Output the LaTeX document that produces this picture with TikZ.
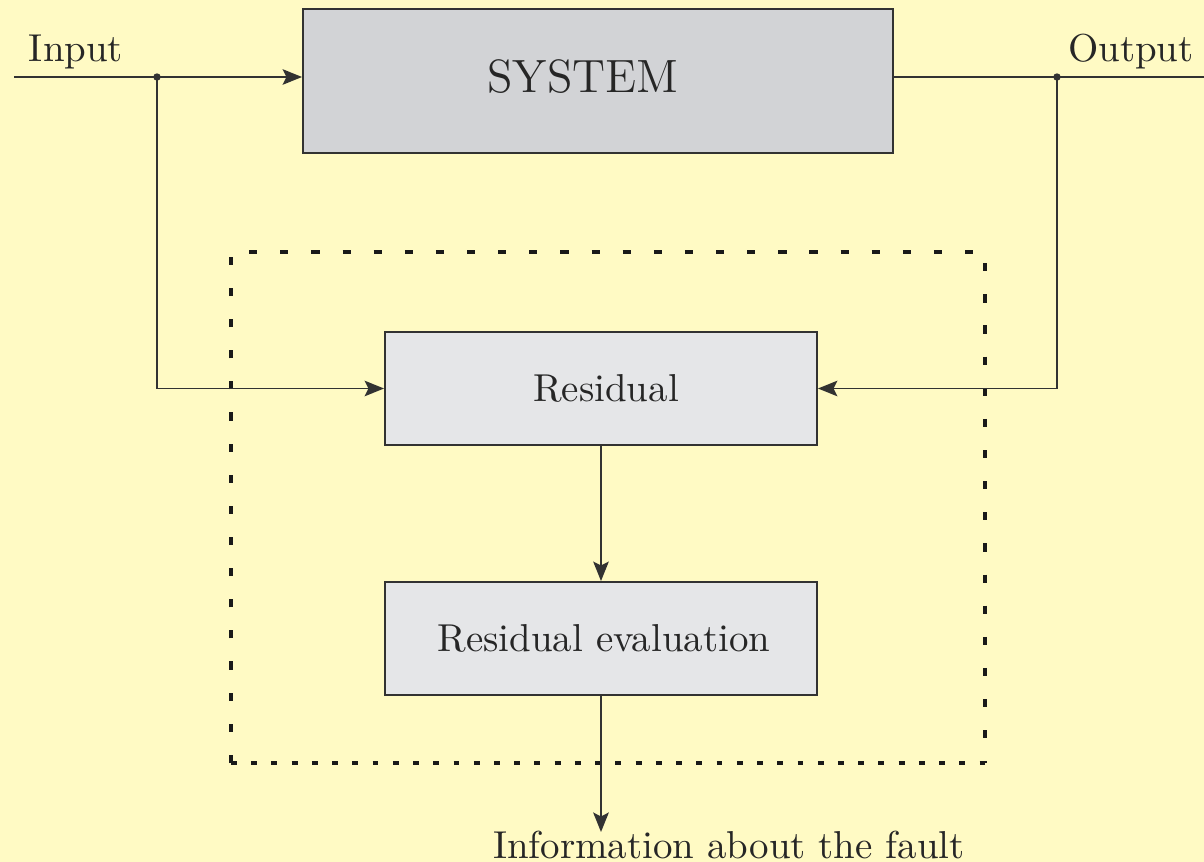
\documentclass[tikz,border=0pt]{standalone}
\usetikzlibrary{arrows.meta}
\definecolor{bgyellow}{RGB}{255,250,196}
\definecolor{sysgray}{RGB}{210,211,214}
\definecolor{blkgray}{RGB}{229,230,232}
\definecolor{linegray}{RGB}{50,50,50}
\begin{document}
\begin{tikzpicture}[x=0.257pt,y=-0.257pt,
  every node/.style={font=\normalsize, text=black!85},
  block/.style={draw=linegray, line width=0.5pt, fill=blkgray, inner sep=0pt,
    minimum width={432*0.257pt}, minimum height={113*0.257pt}},
  sysblock/.style={draw=linegray, line width=0.5pt, fill=sysgray, inner sep=0pt,
    minimum width={590*0.257pt}, minimum height={144*0.257pt}},
  conn/.style={draw=linegray, line width=0.45pt},
  arr/.style={conn, -{Stealth[length=5pt, width=4pt, inset=1pt]}},
  junction/.style={circle, fill=linegray, inner sep=0pt, minimum size=1.9pt},
  fence/.style={draw=black!90, line width=1pt, dash pattern=on 2.1pt off 5.9pt}]

  % background and page size
  \fill[bgyellow] (0,0) rectangle (1204,862);
  \useasboundingbox (0,0) rectangle (1204,862);

  % blocks
  \node[sysblock] (sys) at (598,81) {};
  \node[font=\large] (systxt) at (583,77) {SYSTEM};
  \node[block] (res) at (601,388.5) {\hspace*{2.6pt}Residual};
  \node[block] (eval) at (601,638.5) {\hspace*{1.5pt}Residual evaluation};

  % labels
  \node (inlbl) at (76,52) {Input};
  \node (outlbl) at (1131,52) {Output};
  \node[anchor=base] (info) at (729,858) {Information about the fault};

  % points on the signal lines
  \coordinate (instart) at (14,77);
  \node[junction] (jin) at (157,77) {};
  \node[junction] (jout) at (1057,77) {};
  \coordinate (outend) at (1204,77);
  \coordinate (infoend) at (601,832);

  % dashed fence around the residual generator
  \coordinate (fnw) at (231,252);
  \coordinate (fne) at (985,252);
  \coordinate (fse) at (985,763);
  \coordinate (fsw) at (231,763);
  \draw[fence] (fsw) -- (fnw) -- (fne) -- (fse);
  \draw[fence, dash pattern=on 1.5pt off 3.7pt] (fsw) -- (fse);

  % signal flow
  \draw[arr] (instart) -- (sys.west |- instart);
  \draw[conn] (sys.east |- outend) -- (outend);
  \draw[arr] (jin.center) |- (res.west);
  \draw[arr] (jout.center) |- (res.east);
  \draw[arr] (res.south) -- (eval.north);
  \draw[arr] (eval.south) -- (infoend);
\end{tikzpicture}
\end{document}
